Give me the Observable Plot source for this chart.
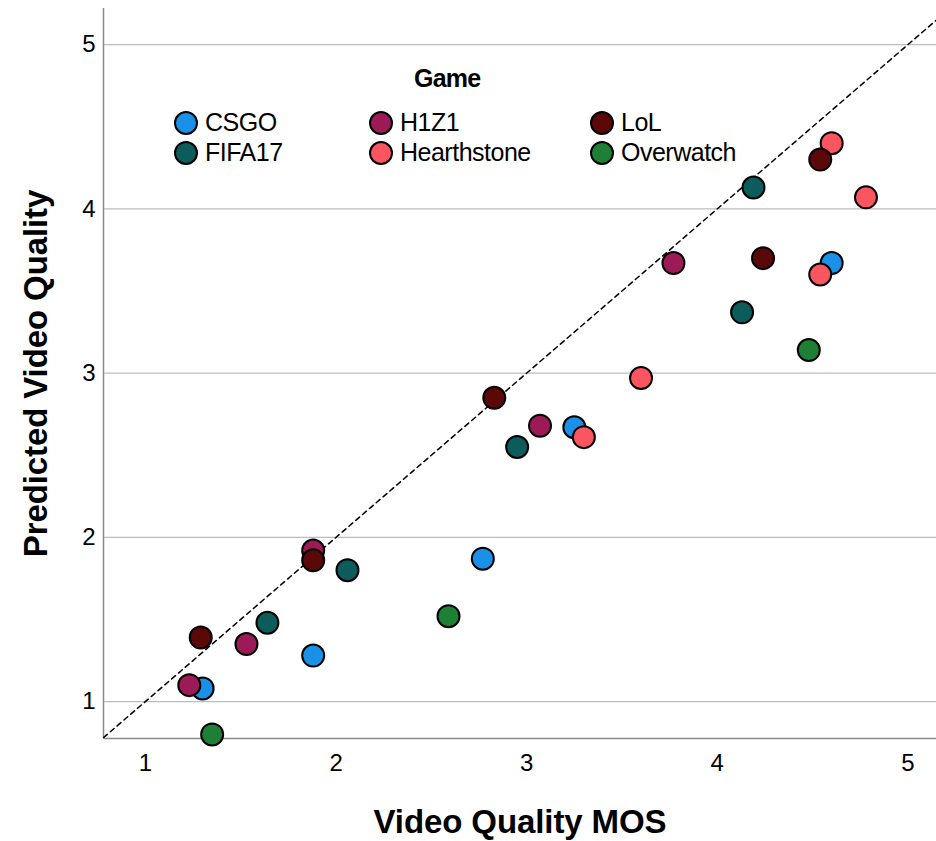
<!DOCTYPE html>
<html><head><meta charset="utf-8">
<script src="https://cdn.jsdelivr.net/npm/d3@7"></script>
<script src="https://cdn.jsdelivr.net/npm/@observablehq/plot@0.6"></script>
<style>
html,body{margin:0;padding:0;background:#fff;}
#wrap{position:relative;width:936px;height:841px;font-family:"Liberation Sans",Arial,sans-serif;}
#legend{position:absolute;left:0;top:0;width:936px;height:200px;pointer-events:none;}
#legend .title{position:absolute;left:414px;top:64px;font-weight:bold;font-size:25px;letter-spacing:-0.8px;}
#legend .item{position:absolute;font-size:25px;letter-spacing:-0.5px;line-height:29px;display:flex;align-items:center;}
#legend .sw{width:20px;height:20px;border-radius:50%;border:2px solid #000;margin-right:7px;box-sizing:content-box;}
svg text{font-family:"Liberation Sans",Arial,sans-serif;}
svg [aria-label="x-axis label"] text, svg [aria-label="y-axis label"] text{font-weight:bold;font-size:33px;letter-spacing:-0.1px;fill:#000;}
svg [aria-label="x-axis tick label"] text, svg [aria-label="y-axis tick label"] text{font-size:24px;fill:#000;}
</style></head>
<body><div id="wrap"><div id="legend"></div></div>
<script>
const games = ["CSGO","H1Z1","LoL","FIFA17","Hearthstone","Overwatch"];
const gameColors = ["#1a90e8","#9c1a56","#5a0808","#0b5c5a","#fb5560","#1e8035"];
const ticks = [1,2,3,4,5];
const xDomain = [0.78, 5.15];
const yDomain = [0.775, 5.22];
const diagonal = [0.78, 5.3];

// drawing order matters for overlaps
const csgoMOS = [4.60, 3.25, 2.77, 1.88, 1.30];
const csgoPred = [3.67, 2.67, 1.87, 1.28, 1.08];
const h1z1MOS = [3.77, 3.07, 1.88, 1.53, 1.23];
const h1z1Pred = [3.67, 2.68, 1.92, 1.35, 1.10];
const hearthMOS = [4.60, 4.78, 4.54, 3.60, 3.30];
const hearthPred = [4.40, 4.07, 3.60, 2.97, 2.61];
const lolMOS = [4.54, 4.24, 2.83, 1.88, 1.29];
const lolPred = [4.30, 3.70, 2.85, 1.86, 1.39];
const fifaMOS = [4.19, 4.13, 2.95, 2.06, 1.64];
const fifaPred = [4.13, 3.37, 2.55, 1.80, 1.48];
const owMOS = [4.48, 2.59, 1.35];
const owPred = [3.14, 1.52, 0.80];

const series = [
  ["CSGO", csgoMOS, csgoPred],
  ["H1Z1", h1z1MOS, h1z1Pred],
  ["Hearthstone", hearthMOS, hearthPred],
  ["LoL", lolMOS, lolPred],
  ["FIFA17", fifaMOS, fifaPred],
  ["Overwatch", owMOS, owPred]
];
const points = series.flatMap(([g, xs, ys]) => xs.map((x, i) => ({game: g, mos: x, pred: ys[i]})));

const plot = Plot.plot({
  width: 936, height: 841,
  marginLeft: 103, marginRight: 0, marginTop: 8, marginBottom: 103,
  style: {fontFamily: '"Liberation Sans", Arial, sans-serif', background: "#fff", overflow: "visible"},
  x: {domain: xDomain, ticks: ticks},
  y: {domain: yDomain, ticks: ticks},
  color: {domain: games, range: gameColors},
  marks: [
    Plot.gridY(ticks, {stroke: "#bdbdbd", strokeOpacity: 1, strokeWidth: 1.2}),
    Plot.ruleX([xDomain[0]], {stroke: "#8a8a8a", strokeWidth: 1.5}),
    Plot.ruleY([yDomain[0]], {stroke: "#8a8a8a", strokeWidth: 1.5}),
    Plot.line(diagonal.map(v => [v, v]), {stroke: "#000", strokeWidth: 1.5, strokeDasharray: "5,4", clip: true}),
    Plot.dot(points, {x: "mos", y: "pred", fill: "game", r: 11, stroke: "#000", strokeWidth: 2, fillOpacity: 1}),
    Plot.axisX(ticks, {tickSize: 0, tickPadding: 15, fontSize: 24, tickFormat: "d", label: "Video Quality MOS", labelAnchor: "center", labelArrow: "none", labelOffset: 94}),
    Plot.axisY(ticks, {tickSize: 0, tickPadding: 8, fontSize: 24, tickFormat: "d", label: "Predicted Video Quality", labelAnchor: "center", labelArrow: "none", labelOffset: 80})
  ]
});
document.getElementById("wrap").prepend(plot);

// legend overlay
const legend = document.getElementById("legend");
const title = document.createElement("div");
title.className = "title"; title.textContent = "Game";
legend.appendChild(title);
const colX = [174, 369, 590];
const rowY = [108, 138];
games.forEach((g, i) => {
  const col = i % 3, row = Math.floor(i / 3);
  const it = document.createElement("div");
  it.className = "item";
  it.style.left = colX[col] + "px";
  it.style.top = rowY[row] + "px";
  const sw = document.createElement("div");
  sw.className = "sw"; sw.style.background = gameColors[i];
  const t = document.createElement("span"); t.textContent = g;
  it.appendChild(sw); it.appendChild(t);
  legend.appendChild(it);
});
</script></body></html>
